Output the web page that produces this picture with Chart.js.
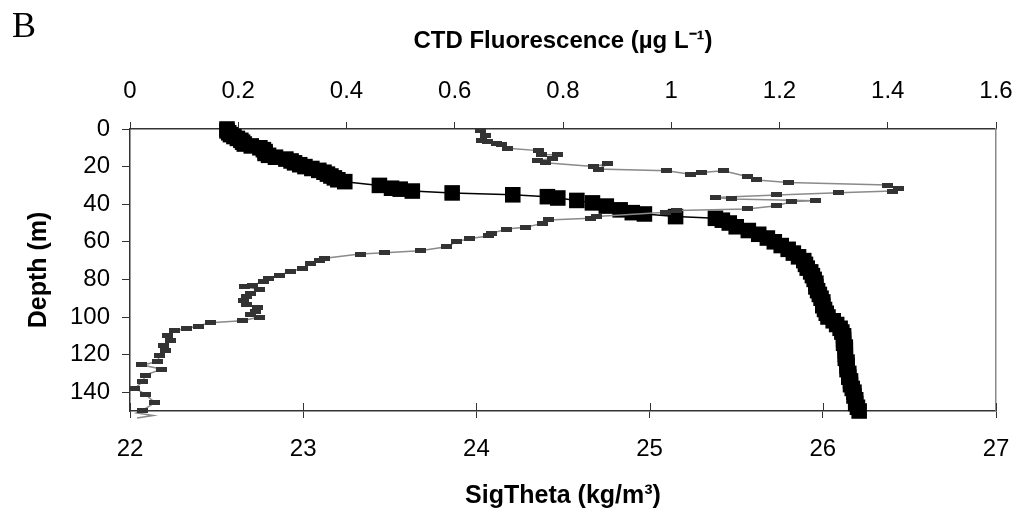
<!DOCTYPE html>
<html>
<head>
<meta charset="utf-8">
<script src="https://cdn.jsdelivr.net/npm/chart.js@4/dist/chart.umd.min.js"></script>
<style>
  html, body { margin: 0; padding: 0; background: #fff; }
  #wrap { position: relative; width: 1018px; height: 517px; }
  #panel { position: absolute; left: 12px; top: 4px; font: 36px "Liberation Serif", "Times New Roman", serif; color: #000; }
</style>
</head>
<body>
<div id="wrap">
  <canvas id="profileChart"></canvas>
  <div id="panel">B</div>
</div>
<script>
// depth profiles
const sigmaDepth = [0, 1, 2, 3, 4, 5, 6, 7, 8, 9, 10, 11, 12, 13, 14, 15, 16, 17, 18, 19, 20, 21, 22, 23, 24, 25, 26, 27, 28,
  30, 31.5, 32, 33, 34, 35, 36, 36.7, 38, 39.3, 41, 43, 44.5, 45.2, 46.6, 47.5,
  48.5, 50, 52, 54, 56, 58, 60, 62, 64, 66, 68, 70, 72, 74, 76, 78, 80, 82, 84, 86, 88, 90, 92, 94, 96, 98, 100,
  102, 104, 106, 108, 110, 112, 114, 116, 118, 120, 122, 124, 126, 128, 130, 132, 134, 136, 138, 140, 142, 144, 146, 148, 150];
const sigmaValues = [22.56, 22.56, 22.57, 22.58, 22.60, 22.62, 22.64, 22.65, 22.66, 22.70, 22.75, 22.77, 22.78, 22.78, 22.80, 22.84, 22.90, 22.93, 22.95, 22.98, 23.01, 23.05, 23.09, 23.12, 23.14, 23.16, 23.18, 23.20, 23.24,
  23.44, 23.51, 23.56, 23.63, 23.86, 24.21, 24.41, 24.47, 24.58, 24.67, 24.75, 24.83, 24.90, 24.97, 25.15, 25.38,
  25.42, 25.46, 25.50, 25.57, 25.63, 25.68, 25.72, 25.76, 25.80, 25.83, 25.86, 25.89, 25.90, 25.91, 25.93, 25.94, 25.95, 25.96, 25.96, 25.97, 25.98, 25.99, 26.00, 26.00, 26.01, 26.02, 26.03,
  26.06, 26.08, 26.10, 26.11, 26.12, 26.12, 26.12, 26.13, 26.13, 26.13, 26.13, 26.14, 26.14, 26.14, 26.15, 26.15, 26.16, 26.16, 26.17, 26.18, 26.18, 26.19, 26.19, 26.20, 26.21];

// the last three readings lie just below the 150 m frame (only the line shows there)
const fluorDepth = [1, 3.2, 5.9, 6.8, 7.6, 8.5, 10.3, 11.5, 13.5, 13.8, 15.5, 17, 17.9, 20, 18.6, 21.3, 22.2, 24.1, 23.2, 22.2,
  25.3, 27.1, 28.5, 29.8, 31.6, 33, 33.9, 35.1, 36.4, 37.2, 38.1, 38.6, 40.8, 42.5, 43.4, 44.3, 46.6, 47.5, 48.4, 50.2,
  52.3, 53.2, 55.5, 56.9, 58.2, 59.9, 62.6, 64.7, 65.8, 66.5, 68.8, 69.7, 71.8, 74.1, 75.9, 77.7, 79.4, 81.2, 83, 83.9,
  85.5, 87.4, 89, 91, 93.6, 95, 97.2, 98.9, 100, 102, 103, 104.8, 106, 107.3, 109.6, 112.6, 114.9, 117.6, 120.7, 123.8,
  125.5, 127.8, 130.9, 134.4, 137.9, 141, 145.6, 149.5, 151, 152.4, 153.7];
const fluorValues = [0.647, 0.656, 0.650, 0.661, 0.678, 0.687, 0.698, 0.754, 0.761, 0.789, 0.780, 0.752, 0.767, 0.856, 0.883, 0.865, 0.992, 1.035, 1.056, 1.096,
  1.140, 1.158, 1.216, 1.400, 1.419, 1.409, 1.309, 1.195, 1.081, 1.112, 1.266, 1.223, 1.195, 1.140, 1.010, 0.990, 0.862, 0.850, 0.773, 0.763,
  0.730, 0.696, 0.668, 0.662, 0.628, 0.604, 0.585, 0.536, 0.471, 0.425, 0.360, 0.351, 0.333, 0.318, 0.296, 0.277, 0.255, 0.246, 0.227, 0.212,
  0.240, 0.222, 0.215, 0.209, 0.216, 0.235, 0.231, 0.222, 0.240, 0.207, 0.148, 0.126, 0.105, 0.083, 0.070, 0.074, 0.061, 0.065, 0.055, 0.050,
  0.022, 0.059, 0.028, 0.024, 0.009, 0.028, 0.046, 0.024, 0.012, 0.043, 0.013];

const sigmaTicks = [22, 23, 24, 25, 26, 27];
const fluorTicks = [0, 0.2, 0.4, 0.6, 0.8, 1, 1.2, 1.4, 1.6];
const depthTicks = [0, 20, 40, 60, 80, 100, 120, 140];

const axisColor = "#333333";
const fontFamily = "'Liberation Sans', Arial, sans-serif";

// small flat rectangle used for the fluorescence markers
const fluorMarker = document.createElement("canvas");
fluorMarker.width = 11;
fluorMarker.height = 5;
const mctx = fluorMarker.getContext("2d");
mctx.fillStyle = "#333333";
mctx.fillRect(0, 0, 11, 5);

function useTicks(list) {
  return scale => { scale.ticks = list.map(v => ({ value: v })); };
}

// fixed box sizes so the plot area lands where it does in the figure
function fixHeight(h) {
  return s => { s.height = h; s.paddingLeft = 0; s.paddingRight = 0; };
}

// bottom axis ticks cross the line in the original
const crossTicks = {
  id: "crossTicks",
  afterDraw(chart) {
    const { ctx, scales } = chart;
    const x = scales.x;
    ctx.save();
    ctx.strokeStyle = axisColor;
    ctx.lineWidth = 1;
    sigmaTicks.forEach(v => {
      const px = Math.round(x.getPixelForValue(v)) + 0.5;
      ctx.beginPath();
      ctx.moveTo(px, x.top);
      ctx.lineTo(px, x.top - 8);
      ctx.stroke();
    });
    ctx.restore();
  }
};

Chart.defaults.font.family = fontFamily;
Chart.defaults.color = "#000";

new Chart(document.getElementById("profileChart"), {
  type: "scatter",
  data: {
    datasets: [
      {
        label: "CTD Fluorescence",
        data: fluorDepth.map((d, i) => ({ x: fluorValues[i], y: d })),
        xAxisID: "x2",
        yAxisID: "y",
        showLine: true,
        borderColor: "#8a8a8a",
        borderWidth: 1.5,
        pointStyle: fluorMarker,
        pointRadius: c => (c.raw && c.raw.y > 150 ? 0 : 5),
        clip: false,
        order: 0
      },
      {
        label: "SigTheta",
        data: sigmaDepth.map((d, i) => ({ x: sigmaValues[i], y: d })),
        xAxisID: "x",
        yAxisID: "y",
        showLine: true,
        borderColor: "#000",
        borderWidth: 1.5,
        pointStyle: "rect",
        pointRadius: 11,
        pointBorderWidth: 0,
        pointBackgroundColor: "#000",
        pointBorderColor: "#000",
        clip: false,
        order: 1
      }
    ]
  },
  options: {
    responsive: true,
    maintainAspectRatio: false,
    animation: false,
    events: [],
    layout: { padding: { left: 0, right: 22, top: 0, bottom: 0 } },
    plugins: { legend: { display: false }, tooltip: { enabled: false } },
    scales: {
      x: {
        type: "linear",
        position: "bottom",
        min: 22,
        max: 27,
        afterBuildTicks: useTicks(sigmaTicks),
        afterFit: fixHeight(106),
        ticks: { font: { size: 24 }, padding: 17, callback: v => String(v), maxRotation: 0 },
        grid: { drawOnChartArea: false, tickLength: 7, tickColor: axisColor },
        border: { color: axisColor, width: 1.5 },
        title: { display: true, text: "SigTheta (kg/m\u00B3)", font: { size: 25, weight: "bold" }, padding: { top: 0, bottom: 6 } }
      },
      x2: {
        type: "linear",
        position: "top",
        min: 0,
        max: 1.6,
        afterBuildTicks: useTicks(fluorTicks),
        afterFit: fixHeight(129),
        ticks: { font: { size: 24 }, padding: 16, callback: v => String(v), maxRotation: 0 },
        grid: { drawOnChartArea: false, tickLength: 7, tickColor: axisColor },
        border: { color: axisColor, width: 1.5 },
        title: { display: true, text: "CTD Fluorescence (\u00B5g L\u207B\u00B9)", font: { size: 24, weight: "bold" }, padding: { top: 27, bottom: 0 } }
      },
      y: {
        type: "linear",
        position: "left",
        reverse: true,
        min: 0,
        max: 150,
        afterBuildTicks: useTicks(depthTicks),
        afterFit: s => { s.width = 130; },
        ticks: { font: { size: 24 }, padding: 12, callback: v => String(v) },
        grid: { drawOnChartArea: false, tickLength: 8, tickColor: axisColor },
        border: { color: axisColor, width: 1.5 },
        title: { display: true, text: "Depth (m)", font: { size: 25, weight: "bold" }, padding: { top: 24, bottom: 0 } }
      },
      y2: {
        type: "linear",
        position: "right",
        min: 0,
        max: 150,
        afterFit: s => { s.width = 0; },
        ticks: { display: false },
        grid: { display: false },
        border: { color: "#8a8a8a", width: 1.5 }
      }
    }
  },
  plugins: [crossTicks]
});
</script>
</body>
</html>
